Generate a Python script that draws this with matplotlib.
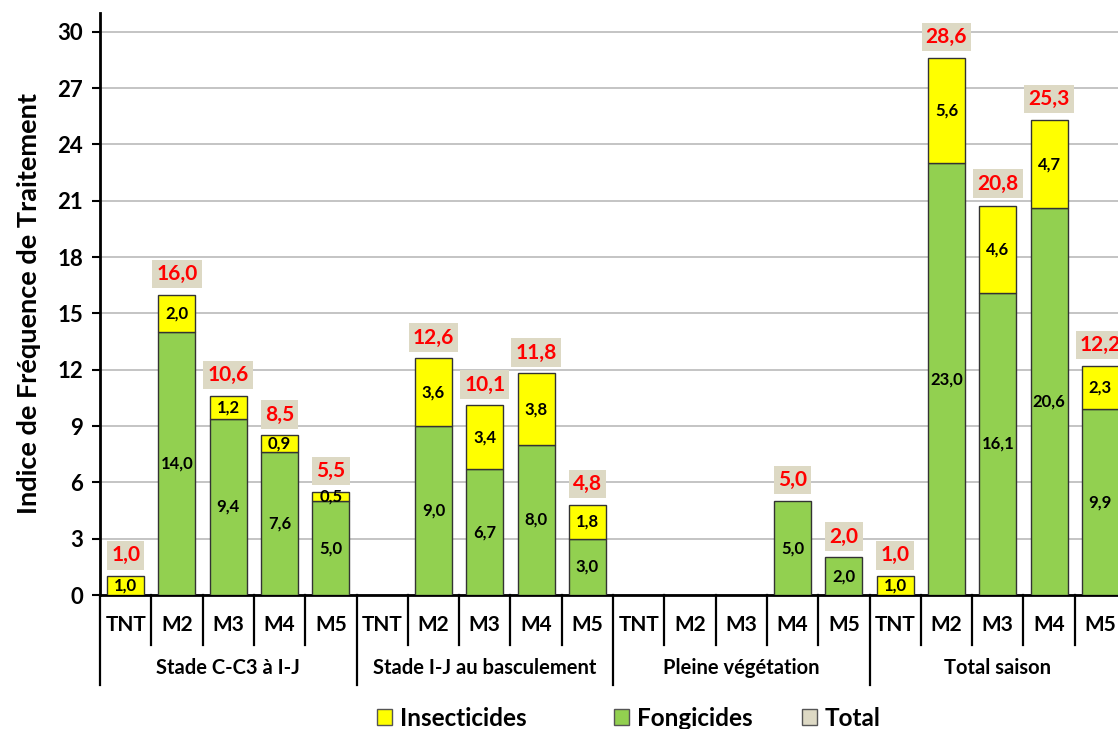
import numpy as np
import matplotlib
matplotlib.use("Agg")
import matplotlib.pyplot as plt
from matplotlib.patches import Patch

plt.rcParams['font.family'] = ['Lato', 'DejaVu Sans']
plt.rcParams['font.weight'] = 'bold'

groups = ["Stade C-C3 à I-J", "Stade I-J au basculement", "Pleine végétation", "Total saison"]
modalites = ["TNT", "M2", "M3", "M4", "M5"]

fongicides = [0, 14.0, 9.4, 7.6, 5.0,
              0, 9.0, 6.7, 8.0, 3.0,
              0, 0, 0, 5.0, 2.0,
              0, 23.0, 16.1, 20.6, 9.9]
insecticides = [1.0, 2.0, 1.2, 0.9, 0.5,
                0, 3.6, 3.4, 3.8, 1.8,
                0, 0, 0, 0, 0,
                1.0, 5.6, 4.6, 4.7, 2.3]
totals = [1.0, 16.0, 10.6, 8.5, 5.5,
          0, 12.6, 10.1, 11.8, 4.8,
          0, 0, 0, 5.0, 2.0,
          1.0, 28.6, 20.8, 25.3, 12.2]

c_ins = "#FFFF00"
c_fon = "#92D050"
c_tot = "#DDD9C4"


def fmt(v):
    return f"{v:.1f}".replace(".", ",")


fig = plt.figure(figsize=(11.18, 7.29), dpi=100)
ax = fig.add_axes([100 / 1118, 134 / 729, 1026 / 1118, 582 / 729])

n = len(groups) * len(modalites)
x = np.arange(n)
fon = np.array(fongicides)
ins = np.array(insecticides)
w = 0.72

for i in range(n):
    if fon[i] > 0:
        ax.bar(x[i], fon[i], w, color=c_fon, edgecolor="#333333", linewidth=1, zorder=3)
        ax.text(x[i], fon[i] / 2, fmt(fon[i]), ha="center", va="center",
                fontsize=12, fontweight="bold", zorder=5)
    if ins[i] > 0:
        ax.bar(x[i], ins[i], w, bottom=fon[i], color=c_ins, edgecolor="#333333", linewidth=1, zorder=3)
        ax.text(x[i], fon[i] + ins[i] / 2, fmt(ins[i]), ha="center", va="center",
                fontsize=12, fontweight="bold", zorder=5)
    if totals[i] > 0:
        ax.annotate(fmt(totals[i]), xy=(x[i], totals[i]), xytext=(0, 15),
                    textcoords="offset points", ha="center", va="center",
                    fontsize=15, fontweight="bold", color="#FF0000", zorder=6,
                    bbox=dict(boxstyle="square,pad=0.2", facecolor=c_tot, edgecolor="none"),
                    annotation_clip=False)

ax.set_xlim(-0.5, n - 0.5)
ax.set_ylim(0, 31)
ax.set_yticks(np.arange(0, 31, 3))
ax.yaxis.grid(True, color="#BFBFBF", linewidth=1.3, zorder=0)
ax.set_axisbelow(True)
for s in ["top", "right"]:
    ax.spines[s].set_visible(False)
ax.spines["left"].set_linewidth(2)
ax.spines["bottom"].set_linewidth(2)
ax.tick_params(axis="y", direction="out", length=6, width=1.5, labelsize=16, pad=6)
ax.set_xticks([])
for lab in ax.get_yticklabels():
    lab.set_fontweight("bold")

ax.set_ylabel("Indice de Fréquence de Traitement", fontsize=19.5, fontweight="bold", labelpad=12)

# two-level category axis
trans = ax.get_xaxis_transform()
for i in range(n):
    ax.text(x[i], -0.052, modalites[i % len(modalites)], transform=trans,
            ha="center", va="center", fontsize=15, fontweight="bold")
for i in range(n + 1):
    edge = i % len(modalites) == 0
    y_end = -0.155 if edge else -0.086
    ax.plot([i - 0.5, i - 0.5], [0, y_end], transform=trans, color="black",
            linewidth=1.6, clip_on=False, zorder=4)
for g, name in enumerate(groups):
    xc = g * len(modalites) + (len(modalites) - 1) / 2
    ax.text(xc, -0.125, name, transform=trans, ha="center", va="center",
            fontsize=14.5, fontweight="bold")

# legend entries
entries = [("Insecticides", c_ins, 377), ("Fongicides", c_fon, 614), ("Total", c_tot, 802)]
for name, col, px in entries:
    h = Patch(facecolor=col, edgecolor="#555555", linewidth=1)
    fig.legend(handles=[h], labels=[name], loc="center left",
               bbox_to_anchor=(px / 1118, 1 - 718 / 729), frameon=False,
               borderpad=0, borderaxespad=0, handlelength=0.6, handleheight=0.6,
               handletextpad=0.33, prop={"size": 17.5, "weight": "bold"})

fig.savefig("out.png", dpi=100)
